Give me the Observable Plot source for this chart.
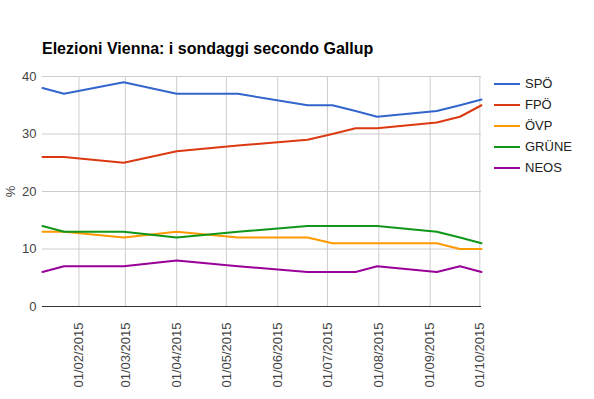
<!DOCTYPE html>
<html>
<head>
<meta charset="utf-8">
<script src="https://cdn.jsdelivr.net/npm/d3@7"></script>
<script src="https://cdn.jsdelivr.net/npm/@observablehq/plot@0.6"></script>
<style>
  body { margin: 0; background: white; }
  #wrap { position: relative; width: 594px; height: 399px; font-family: "Liberation Sans", Arial, sans-serif; }
  #title { position: absolute; left: 42px; top: 40px; font-size: 16px; line-height: 18px; font-weight: bold; color: #000; white-space: nowrap; }
  #legend { position: absolute; left: 494px; top: 73px; font-size: 13px; color: #222; }
  .item { display: flex; align-items: center; height: 21px; }
  .swatch { width: 26px; height: 2px; margin-right: 5px; }
</style>
</head>
<body>
<div id="wrap">
  <div id="title">Elezioni Vienna: i sondaggi secondo Gallup</div>
  <div id="legend"></div>
</div>
<script>
const dates = ["2015-01-10","2015-01-23","2015-02-28","2015-04-01","2015-05-08","2015-06-19","2015-07-04","2015-07-18","2015-07-31","2015-09-05","2015-09-19","2015-10-02"];
const seriesNames = ["SPÖ","FPÖ","ÖVP","GRÜNE","NEOS"];
const spo   = [38,37,39,37,37,35,35,34,33,34,35,36];
const fpo   = [26,26,25,27,28,29,30,31,31,32,33,35];
const ovp   = [13,13,12,13,12,12,11,11,11,11,10,10];
const grune = [14,13,13,12,13,14,14,14,14,13,12,11];
const neos  = [6,7,7,8,7,6,6,6,7,6,7,6];
const colors = ["#3366cc","#dc3912","#ff9900","#109618","#990099"];
const yTicks = [0,10,20,30,40];
const xTickLabels = ["01/02/2015","01/03/2015","01/04/2015","01/05/2015","01/06/2015","01/07/2015","01/08/2015","01/09/2015","01/10/2015"];

const parseDate = d3.utcParse("%Y-%m-%d");
const parseTick = d3.utcParse("%d/%m/%Y");
const fmtTick = d3.utcFormat("%d/%m/%Y");
const allValues = [spo, fpo, ovp, grune, neos];
const data = [];
seriesNames.forEach((s, i) => {
  dates.forEach((d, j) => data.push({series: s, date: parseDate(d), value: allValues[i][j]}));
});
const xTicks = xTickLabels.map(parseTick);

const chart = Plot.plot({
  width: 594,
  height: 399,
  marginLeft: 42,
  marginRight: 113,
  marginTop: 76,
  marginBottom: 93,
  style: { fontFamily: "'Liberation Sans', Arial, sans-serif", fontSize: "13px", color: "#444", background: "white" },
  x: { type: "utc", domain: [parseDate(dates[0]), parseDate(dates[dates.length - 1])] },
  y: { domain: [0, 40] },
  color: { domain: seriesNames, range: colors },
  marks: [
    Plot.gridY(yTicks.slice(1), { stroke: "#cccccc", strokeOpacity: 1 }),
    Plot.gridX(xTicks, { stroke: "#cccccc", strokeOpacity: 1 }),
    Plot.ruleY([0], { stroke: "#333333", strokeWidth: 1 }),
    Plot.lineY(data, { x: "date", y: "value", stroke: "series", strokeWidth: 2 }),
    Plot.axisY(yTicks, { tickSize: 0, tickPadding: 6, label: "%", labelAnchor: "center", labelArrow: "none", labelOffset: 37, fill: "#444" }),
    Plot.axisX(xTicks, { tickSize: 0, tickPadding: 16, tickRotate: -90, tickFormat: fmtTick, label: null, fill: "#444" })
  ]
});
document.getElementById("wrap").prepend(chart);
chart.style.position = "absolute";
chart.style.left = "0";
chart.style.top = "0";

const legend = document.getElementById("legend");
seriesNames.forEach((s, i) => {
  const item = document.createElement("div");
  item.className = "item";
  const sw = document.createElement("div");
  sw.className = "swatch";
  sw.style.background = colors[i];
  const t = document.createElement("span");
  t.textContent = s;
  item.appendChild(sw);
  item.appendChild(t);
  legend.appendChild(item);
});
</script>
</body>
</html>
